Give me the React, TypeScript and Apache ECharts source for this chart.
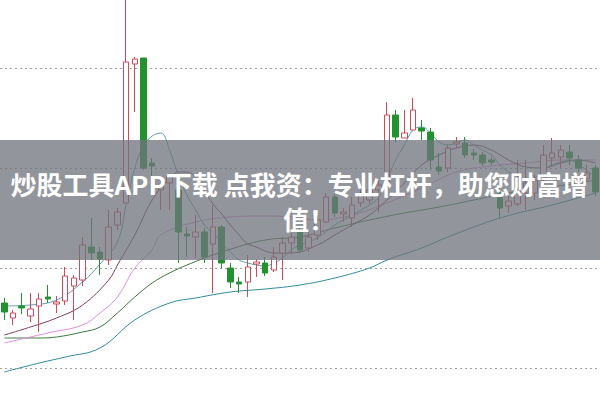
import React, { useEffect, useRef } from "react";
import * as echarts from "echarts";

// [open, close, low, high]
const candles: number[][] = [
  [10.65, 10.56, 10.48, 10.70],
  [10.50, 10.55, 10.43, 10.58],
  [10.62, 10.60, 10.54, 10.75],
  [10.52, 10.59, 10.46, 10.75],
  [10.62, 10.69, 10.36, 10.75],
  [10.71, 10.69, 10.65, 10.83],
  [10.64, 10.66, 10.55, 10.72],
  [10.67, 10.92, 10.63, 11.01],
  [10.82, 10.90, 10.48, 10.93],
  [10.88, 11.23, 10.82, 11.31],
  [11.21, 11.15, 11.08, 11.50],
  [11.16, 11.09, 10.93, 11.21],
  [11.08, 11.41, 11.03, 11.58],
  [11.43, 11.56, 11.38, 11.60],
  [11.65, 13.06, 11.65, 13.78],
  [13.04, 13.09, 12.56, 13.11],
  [13.10, 12.00, 11.98, 13.10],
  [12.05, 12.02, 11.88, 12.10],
  [11.78, 11.83, 11.58, 11.86],
  [11.85, 11.92, 11.58, 11.95],
  [11.78, 11.36, 11.05, 11.78],
  [11.34, 11.32, 11.11, 11.41],
  [11.31, 11.36, 11.10, 11.53],
  [11.36, 11.11, 11.05, 11.40],
  [11.24, 11.41, 10.75, 11.63],
  [11.41, 11.05, 11.00, 11.43],
  [11.00, 10.86, 10.80, 11.05],
  [10.86, 10.84, 10.75, 10.91],
  [10.86, 11.01, 10.71, 11.13],
  [11.04, 11.06, 10.91, 11.09],
  [11.05, 10.95, 10.92, 11.11],
  [10.98, 11.11, 10.96, 11.21],
  [11.15, 11.25, 10.88, 11.31],
  [11.25, 11.31, 11.15, 11.35],
  [11.36, 11.18, 11.15, 11.40],
  [11.20, 11.31, 11.16, 11.36],
  [11.33, 11.48, 11.28, 11.53],
  [11.46, 11.71, 11.45, 11.75],
  [11.71, 11.55, 11.51, 11.75],
  [11.54, 11.56, 11.46, 11.60],
  [11.50, 11.63, 11.41, 11.71],
  [11.65, 11.75, 11.61, 11.78],
  [11.68, 11.78, 11.64, 11.81],
  [11.78, 11.83, 11.56, 11.88],
  [11.81, 12.53, 11.81, 12.66],
  [12.53, 12.31, 12.26, 12.58],
  [12.30, 12.35, 12.30, 12.58],
  [12.38, 12.58, 12.38, 12.70],
  [12.40, 12.37, 12.28, 12.48],
  [12.36, 12.08, 11.98, 12.40],
  [12.01, 11.97, 11.93, 12.15],
  [12.00, 12.20, 11.96, 12.23],
  [12.24, 12.26, 12.20, 12.31],
  [12.25, 12.13, 12.10, 12.31],
  [12.15, 12.13, 12.08, 12.19],
  [12.13, 12.05, 12.02, 12.16],
  [12.08, 12.06, 12.03, 12.11],
  [11.76, 11.60, 11.50, 11.80],
  [11.62, 11.67, 11.55, 11.72],
  [11.64, 11.78, 11.62, 12.08],
  [11.75, 11.85, 11.58, 12.08],
  [11.75, 11.88, 11.68, 11.93],
  [11.88, 12.13, 11.86, 12.23],
  [12.10, 12.15, 12.01, 12.30],
  [12.11, 12.18, 12.00, 12.23],
  [12.16, 12.10, 12.03, 12.23],
  [12.08, 12.00, 11.96, 12.13],
  [11.89, 11.95, 11.86, 12.03],
  [12.00, 11.76, 11.72, 12.03],
];

const categories = candles.map((_, i) => "D" + (i + 1));

// moving averages as [candle index, value]
const ma5: number[][] = [
  [0, 10.62], [3, 10.63], [6, 10.68], [9, 10.86], [11, 11.04], [13, 11.26], [14, 11.63],
  [15, 12.0], [16, 12.22], [17, 12.32], [18, 12.35], [19, 12.18], [20, 11.93], [21, 11.73],
  [22, 11.58], [23, 11.43], [24, 11.35], [25, 11.25], [26, 11.16], [27, 11.08], [28, 11.05],
  [29, 11.03], [30, 11.02], [31, 11.05], [32, 11.1], [33, 11.18], [34, 11.23], [36, 11.3],
  [38, 11.43], [40, 11.53], [42, 11.63], [43, 11.7], [44, 11.88], [45, 12.08], [46, 12.23],
  [47, 12.38], [48, 12.41], [49, 12.35], [50, 12.26], [51, 12.23], [52, 12.25], [53, 12.28],
  [54, 12.23], [55, 12.18], [56, 12.13], [57, 12.03], [58, 11.96], [59, 11.92], [60, 11.88],
  [61, 11.9], [62, 11.98], [63, 12.03], [64, 12.06], [65, 12.08], [66, 12.03], [67, 11.98],
  [68, 11.9],
];
const ma10: number[][] = [
  [0, 10.33], [3, 10.41], [6, 10.5], [9, 10.63], [12, 10.88], [13, 11.03], [15, 11.33],
  [17, 11.68], [19, 11.9], [20, 11.96], [21, 11.96], [22, 11.9], [24, 11.64], [25, 11.54],
  [26, 11.43], [27, 11.33], [28, 11.24], [29, 11.21], [30, 11.17], [31, 11.15], [33, 11.15],
  [36, 11.23], [38, 11.33], [40, 11.43], [42, 11.53], [44, 11.68], [46, 11.85], [48, 12.03],
  [50, 12.13], [52, 12.2], [54, 12.23], [56, 12.18], [58, 12.08], [60, 12.01], [62, 12.0],
  [64, 12.05], [66, 12.08], [68, 12.05],
];
const ma20: number[][] = [
  [0, 10.25], [5, 10.35], [9, 10.43], [11, 10.55], [13, 10.71], [15, 11.0], [17, 11.18],
  [18, 11.33], [22, 11.46], [26, 11.51], [30, 11.52], [33, 11.51], [36, 11.48], [40, 11.53],
  [44, 11.65], [48, 11.8], [52, 11.96], [56, 12.02], [60, 12.05], [64, 12.08], [68, 12.08],
];
const ma30: number[][] = [
  [0, 10.3], [4, 10.3], [6, 10.31], [9, 10.36], [11, 10.41], [13, 10.55], [15, 10.71],
  [17, 10.85], [19, 10.95], [21, 11.03], [25, 11.16], [30, 11.28], [34, 11.31], [38, 11.4],
  [42, 11.48], [46, 11.55], [50, 11.61], [54, 11.68], [58, 11.75], [62, 11.8], [66, 11.85],
  [68, 11.88],
];
const ma60: number[][] = [
  [0, 9.96], [4, 10.05], [7, 10.11], [11, 10.2], [15, 10.48], [19, 10.65], [22, 10.7],
  [26, 10.76], [30, 10.79], [34, 10.83], [38, 10.9], [42, 11.0], [44, 11.08], [48, 11.2],
  [51, 11.31], [57, 11.5], [63, 11.63], [68, 11.75],
];

const gridValues = [13, 12, 11, 10];
const bannerLine1 = "炒股工具APP下载 点我资：专业杠杆，助您财富增";
const bannerLine2 = "值！";

export default function App() {
  const ref = useRef<HTMLDivElement>(null);
  useEffect(() => {
    document.body.style.margin = "0";
    if (!ref.current) return;
    const chart = echarts.init(ref.current, undefined, { renderer: "svg" });
    const maLine = (name: string, data: number[][], color: string, z = 3) => ({
      name,
      type: "line",
      xAxisIndex: 1,
      data,
      smooth: 0.4,
      symbol: "none",
      z,
      lineStyle: { color, width: 1 },
    });
    chart.setOption({
      animation: false,
      backgroundColor: "#ffffff",
      grid: { left: 0, right: 0, top: 0, bottom: 0 },
      xAxis: [
        { type: "category", data: categories, boundaryGap: true, show: false },
        { type: "value", min: -0.5, max: candles.length - 0.5, show: false },
      ],
      yAxis: { type: "value", min: 9.67, max: 13.68, show: false },
      series: [
        {
          type: "line",
          data: [],
          z: 1,
          markLine: {
            silent: true,
            symbol: "none",
            label: { show: false },
            lineStyle: { color: "#a0a0a0", type: [2, 3], width: 1 },
            data: gridValues.map((v) => ({ yAxis: v })),
          },
        },
        maLine("MA60", ma60, "#2f8c9c"),
        maLine("MA30", ma30, "#3a7a3e"),
        maLine("MA20", ma20, "#dc8ede"),
        maLine("MA10", ma10, "#7a3d62"),
        maLine("MA5", ma5, "#5b9fae"),
        {
          type: "candlestick",
          data: candles,
          barWidth: 6,
          z: 5,
          itemStyle: {
            color: "#ffffff",
            color0: "#23922e",
            borderColor: "#cf4a5a",
            borderColor0: "#23922e",
            borderWidth: 1,
          },
        },
      ],
      graphic: [
        {
          type: "rect",
          shape: { x: 0, y: 140, width: 600, height: 120 },
          style: { fill: "rgba(112,116,124,0.76)" },
          z: 100,
        },
        {
          type: "text",
          x: 299,
          y: 183,
          z: 101,
          style: {
            text: bannerLine1,
            fill: "#ffffff",
            font: "bold 26px 'Noto Sans CJK SC'",
            align: "center",
            verticalAlign: "middle",
          },
        },
        {
          type: "text",
          x: 309,
          y: 218,
          z: 101,
          style: {
            text: bannerLine2,
            fill: "#ffffff",
            font: "bold 26px 'Noto Sans CJK SC'",
            align: "center",
            verticalAlign: "middle",
          },
        },
      ],
    });
    return () => chart.dispose();
  }, []);
  return <div ref={ref} style={{ width: 600, height: 401 }} />;
}
